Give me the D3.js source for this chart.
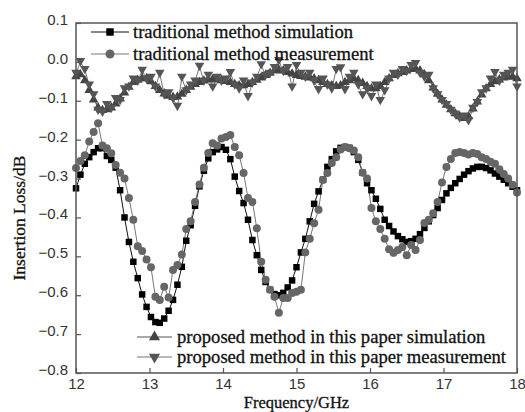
<!DOCTYPE html>
<html><head><meta charset="utf-8">
<script src="https://cdn.jsdelivr.net/npm/d3@7"></script>
<style>body{margin:0;background:#fff}svg{display:block}</style>
</head><body><svg id="c" width="525" height="412"></svg>
<script>
const freq = [12.00,12.06,12.12,12.18,12.24,12.30,12.36,12.42,12.48,12.54,12.60,12.66,12.72,12.78,12.84,12.90,12.96,13.02,13.08,13.14,13.20,13.26,13.32,13.38,13.44,13.50,13.56,13.62,13.68,13.74,13.80,13.86,13.92,13.98,14.04,14.10,14.16,14.22,14.28,14.34,14.40,14.46,14.52,14.58,14.64,14.70,14.76,14.82,14.88,14.94,15.00,15.06,15.12,15.18,15.24,15.30,15.36,15.42,15.48,15.54,15.60,15.66,15.72,15.78,15.84,15.90,15.96,16.02,16.08,16.14,16.20,16.26,16.32,16.38,16.44,16.50,16.56,16.62,16.68,16.74,16.80,16.86,16.92,16.98,17.04,17.10,17.16,17.22,17.28,17.34,17.40,17.46,17.52,17.58,17.64,17.70,17.76,17.82,17.88,17.94,18.00];

const tradSim = [-0.325,-0.29,-0.262,-0.245,-0.232,-0.222,-0.222,-0.242,-0.252,-0.272,-0.33,-0.40,-0.463,-0.514,-0.556,-0.598,-0.63,-0.656,-0.669,-0.671,-0.66,-0.64,-0.612,-0.573,-0.527,-0.46,-0.42,-0.37,-0.32,-0.28,-0.248,-0.232,-0.225,-0.219,-0.226,-0.25,-0.295,-0.332,-0.363,-0.406,-0.458,-0.497,-0.535,-0.566,-0.586,-0.597,-0.6,-0.594,-0.58,-0.562,-0.528,-0.49,-0.455,-0.41,-0.365,-0.333,-0.303,-0.27,-0.25,-0.23,-0.221,-0.219,-0.221,-0.232,-0.252,-0.285,-0.312,-0.33,-0.352,-0.378,-0.406,-0.422,-0.436,-0.448,-0.456,-0.463,-0.461,-0.455,-0.443,-0.427,-0.41,-0.394,-0.376,-0.355,-0.338,-0.324,-0.312,-0.301,-0.29,-0.281,-0.274,-0.27,-0.27,-0.273,-0.279,-0.287,-0.295,-0.303,-0.312,-0.321,-0.33];

const tradMeas = [-0.273,-0.255,-0.24,-0.205,-0.18,-0.158,-0.215,-0.222,-0.235,-0.265,-0.285,-0.3,-0.35,-0.406,-0.474,-0.486,-0.508,-0.528,-0.604,-0.612,-0.578,-0.606,-0.535,-0.522,-0.495,-0.43,-0.41,-0.36,-0.315,-0.272,-0.234,-0.209,-0.215,-0.197,-0.193,-0.188,-0.219,-0.24,-0.286,-0.35,-0.36,-0.428,-0.514,-0.56,-0.586,-0.604,-0.645,-0.607,-0.607,-0.594,-0.591,-0.586,-0.49,-0.455,-0.415,-0.38,-0.304,-0.286,-0.26,-0.245,-0.225,-0.219,-0.222,-0.228,-0.245,-0.285,-0.3,-0.376,-0.41,-0.43,-0.455,-0.482,-0.491,-0.484,-0.476,-0.497,-0.471,-0.484,-0.458,-0.414,-0.406,-0.389,-0.36,-0.31,-0.27,-0.25,-0.234,-0.232,-0.234,-0.238,-0.234,-0.237,-0.245,-0.25,-0.257,-0.262,-0.276,-0.288,-0.3,-0.316,-0.336];

const propSim = [-0.035,-0.03,-0.045,-0.07,-0.095,-0.115,-0.122,-0.12,-0.115,-0.105,-0.092,-0.077,-0.062,-0.05,-0.044,-0.04,-0.04,-0.048,-0.06,-0.07,-0.079,-0.085,-0.088,-0.087,-0.08,-0.07,-0.062,-0.055,-0.05,-0.046,-0.043,-0.042,-0.043,-0.045,-0.047,-0.05,-0.055,-0.058,-0.058,-0.055,-0.05,-0.044,-0.038,-0.032,-0.026,-0.02,-0.018,-0.02,-0.024,-0.028,-0.032,-0.034,-0.036,-0.038,-0.04,-0.045,-0.05,-0.055,-0.058,-0.06,-0.058,-0.05,-0.045,-0.04,-0.045,-0.052,-0.06,-0.066,-0.066,-0.06,-0.05,-0.04,-0.032,-0.027,-0.024,-0.02,-0.016,-0.015,-0.02,-0.03,-0.045,-0.064,-0.08,-0.095,-0.108,-0.12,-0.13,-0.138,-0.142,-0.138,-0.118,-0.1,-0.082,-0.066,-0.055,-0.048,-0.043,-0.038,-0.035,-0.036,-0.04];

const propMeas = [-0.03,0.0,-0.02,-0.06,-0.085,-0.125,-0.13,-0.11,-0.12,-0.095,-0.1,-0.07,-0.065,-0.045,-0.05,-0.022,-0.045,-0.04,-0.065,-0.03,-0.085,-0.08,-0.095,-0.115,-0.04,-0.075,-0.06,-0.05,-0.012,-0.05,-0.035,-0.065,-0.04,-0.05,-0.045,-0.028,-0.06,-0.07,-0.05,-0.09,-0.055,-0.04,-0.008,-0.035,-0.03,-0.015,0.003,-0.025,-0.015,-0.065,-0.01,-0.03,-0.04,-0.03,-0.05,-0.072,-0.045,-0.06,-0.07,-0.02,-0.016,-0.072,-0.04,-0.03,-0.06,-0.085,-0.07,-0.09,-0.06,-0.1,-0.075,-0.045,-0.03,-0.035,-0.02,-0.025,-0.01,-0.005,-0.03,-0.04,-0.035,-0.07,-0.085,-0.1,-0.11,-0.125,-0.135,-0.145,-0.14,-0.152,-0.12,-0.105,-0.08,-0.07,-0.045,-0.028,-0.05,-0.035,-0.03,-0.022,-0.065];

const xTicks = [12,13,14,15,16,17,18];
const yTicks = [0.1,0.0,-0.1,-0.2,-0.3,-0.4,-0.5,-0.6,-0.7,-0.8];
const seriesNames = ["traditional method simulation","traditional method measurement","proposed method in this paper simulation","proposed method in this paper measurement"];

const svg = d3.select("#c");
const M = {l:76, r:517, t:23, b:373};
const x = d3.scaleLinear().domain([12,18]).range([M.l, M.r]);
const y = d3.scaleLinear().domain([-0.8,0.1]).range([M.b, M.t]);

const styles = [
  {data: tradSim, line:"#111", fill:"#000", sym:d3.symbolSquare, size:42, rot:0},
  {data: tradMeas, line:"#777", fill:"#666", sym:d3.symbolCircle, size:50, rot:0},
  {data: propSim, line:"#555", fill:"#444", sym:d3.symbolTriangle, size:40, rot:0},
  {data: propMeas, line:"#777", fill:"#555", sym:d3.symbolTriangle, size:40, rot:180}
];

const plot = svg.append("g");
const line = d3.line().x((d,i)=>x(freq[i])).y(d=>y(d));
styles.forEach(s=>{
  plot.append("path").attr("d", line(s.data)).attr("fill","none").attr("stroke", s.line).attr("stroke-width",1);
});
styles.forEach(s=>{
  const sym = d3.symbol().type(s.sym).size(s.size);
  plot.selectAll(null).data(s.data).enter().append("path")
    .attr("d", sym)
    .attr("transform",(d,i)=>`translate(${x(freq[i])},${y(d) + (s.sym===d3.symbolTriangle ? (s.rot?-1:1) : 0)}) rotate(${s.rot})`)
    .attr("fill", s.fill);
});

// frame
svg.append("rect").attr("x",M.l).attr("y",M.t).attr("width",M.r-M.l).attr("height",M.b-M.t)
  .attr("fill","none").attr("stroke","#555").attr("stroke-width",1.5);

// axes with inward ticks
const xAxis = d3.axisBottom(x).tickValues(xTicks).tickSizeInner(-5).tickSizeOuter(0).tickPadding(5).tickFormat(d3.format("d"));
const gx = svg.append("g").attr("transform",`translate(0,${M.b})`).call(xAxis);
const yAxis = d3.axisLeft(y).tickValues(yTicks).tickSizeInner(-5).tickSizeOuter(0).tickPadding(8).tickFormat(d3.format(".1f"));
const gy = svg.append("g").attr("transform",`translate(${M.l},0)`).call(yAxis);
[gx,gy].forEach(g=>{
  g.select(".domain").remove();
  g.selectAll(".tick line").attr("stroke","#555").attr("stroke-width",1.2);
  g.selectAll(".tick text").attr("font-family","'Liberation Sans', Arial, sans-serif").attr("font-size",15).attr("fill","#333");
});
gy.selectAll(".tick text").attr("dy","0.1em");

const serif = "'Liberation Serif','Times New Roman',serif";
// axis titles
svg.append("text").attr("x",(M.l+M.r)/2).attr("y",407.5).attr("text-anchor","middle")
  .attr("font-family",serif).attr("font-size",16.5).attr("fill","#111")
  .attr("stroke","#111").attr("stroke-width",0.3).text("Frequency/GHz");
svg.append("text").attr("transform","translate(25,218) rotate(-90)").attr("text-anchor","middle")
  .attr("font-family",serif).attr("font-size",17.5).attr("fill","#111")
  .attr("stroke","#111").attr("stroke-width",0.3).text("Insertion Loss/dB");

// legends
function legendItem(s, name, lx1, lx2, ty, tx){
  const g = svg.append("g");
  g.append("line").attr("x1",lx1).attr("x2",lx2).attr("y1",ty).attr("y2",ty).attr("stroke",s.line).attr("stroke-width",1.2);
  g.append("path").attr("d", d3.symbol().type(s.sym).size(s.size+14)).attr("transform",`translate(${(lx1+lx2)/2},${ty}) rotate(${s.rot})`).attr("fill",s.fill);
  g.append("text").attr("x",tx).attr("y",ty).attr("dy","0.33em")
    .attr("font-family",serif).attr("font-size",18.6).attr("fill","#111")
    .attr("stroke","#111").attr("stroke-width",0.3).text(name);
}
legendItem(styles[0], seriesNames[0], 91, 129, 32, 133);
legendItem(styles[1], seriesNames[1], 91, 129, 54, 133);
legendItem(styles[2], seriesNames[2], 137, 172, 337, 177);
legendItem(styles[3], seriesNames[3], 137, 172, 357, 177);
</script></body></html>
